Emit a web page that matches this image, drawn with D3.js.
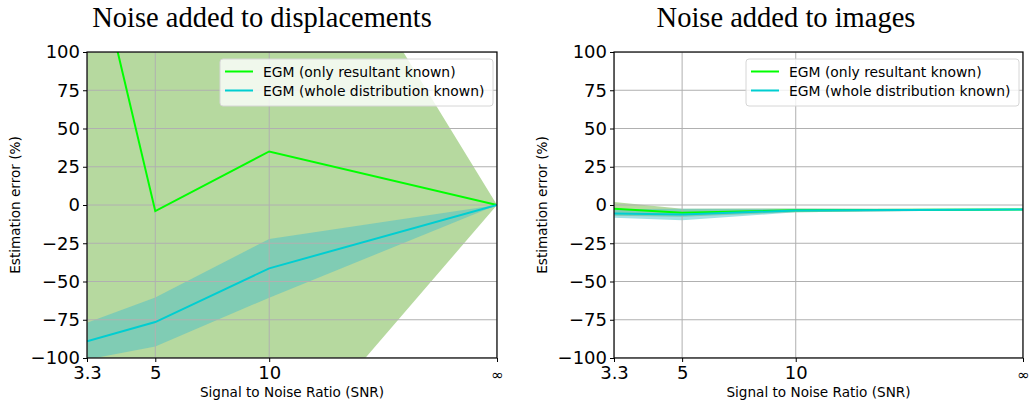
<!DOCTYPE html>
<html lang="en">
<head>
<meta charset="UTF-8">
<title>Estimation error vs SNR</title>
<script src="https://d3js.org/d3.v7.min.js"></script>
<style>
  body { margin: 0; background: #fff; }
  text { font-family: "DejaVu Sans", sans-serif; fill: #000; }
</style>
</head>
<body>
<svg id="chart" width="1031" height="406"></svg>
<script>
// SNR values, infinity is put at the right end of the log axis
const snrValues = [3.3, 5, 10, Infinity];
const snrLabels = ["3.3", "5", "10", "\u221E"];
const yTicks = [-100, -75, -50, -25, 0, 25, 50, 75, 100];
const seriesNames = ["EGM (only resultant known)", "EGM (whole distribution known)"];

// noise added to displacements
const dispResultantMean = [185, -4, 35, 0];
const dispResultantStd = [400, 300, 208, 0];
const dispWholeMean = [-89, -76.5, -41.4, 0];
const dispWholeStd = [12, 16, 19.2, 0];

// noise added to images
const imgResultantMean = [-2.5, -5, -3.5, -3];
const imgResultantStd = [4.5, 2.6, 1.2, 0.3];
const imgWholeMean = [-5.5, -6.2, -3.6, -3];
const imgWholeStd = [2.8, 3.8, 1.2, 0.3];

const INF_POS = 40; // where "infinity" sits on the log axis
const plotTop = 52, plotBottom = 358;

const panels = [
    { title: "Noise added to displacements", left: 87, right: 497, titleX: 262,
      resMean: dispResultantMean, resStd: dispResultantStd,
      wholeMean: dispWholeMean, wholeStd: dispWholeStd },
    { title: "Noise added to images", left: 614, right: 1023, titleX: 786,
      resMean: imgResultantMean, resStd: imgResultantStd,
      wholeMean: imgWholeMean, wholeStd: imgWholeStd }
];

const svg = d3.select("#chart");

panels.forEach(function(p, pi) {
    const x = d3.scaleLog().domain([3.3, INF_POS]).range([p.left, p.right]);
    const y = d3.scaleLinear().domain([-100, 100]).range([plotBottom, plotTop]);
    const xOf = v => x(isFinite(v) ? v : INF_POS);

    const g = svg.append("g");

    // clip to the axes box
    g.append("clipPath").attr("id", "clip" + pi)
        .append("rect")
        .attr("x", p.left).attr("y", plotTop)
        .attr("width", p.right - p.left).attr("height", plotBottom - plotTop);

    const plot = g.append("g").attr("clip-path", "url(#clip" + pi + ")");

    const makeRows = (mean, std) => snrValues.map((s, i) => ({ s: s, m: mean[i], d: std[i] }));
    const resRows = makeRows(p.resMean, p.resStd);
    const wholeRows = makeRows(p.wholeMean, p.wholeStd);

    const area = d3.area()
        .x(d => xOf(d.s))
        .y0(d => y(d.m - d.d))
        .y1(d => y(d.m + d.d));

    // bands
    plot.append("path").datum(resRows)
        .attr("d", area)
        .attr("fill", "#6db33f").attr("fill-opacity", 0.5);
    plot.append("path").datum(wholeRows)
        .attr("d", area)
        .attr("fill", "#4abfc9").attr("fill-opacity", 0.5);

    // grid
    plot.append("g").selectAll("line")
        .data(yTicks).enter().append("line")
        .attr("x1", p.left).attr("x2", p.right)
        .attr("y1", d => y(d)).attr("y2", d => y(d))
        .attr("stroke", "#b0b0b0").attr("stroke-width", 1);
    plot.append("g").selectAll("line")
        .data(snrValues).enter().append("line")
        .attr("x1", d => xOf(d)).attr("x2", d => xOf(d))
        .attr("y1", plotTop).attr("y2", plotBottom)
        .attr("stroke", "#b0b0b0").attr("stroke-width", 1);

    // mean lines
    const line = d3.line().x(d => xOf(d.s)).y(d => y(d.m));
    plot.append("path").datum(resRows)
        .attr("d", line).attr("fill", "none")
        .attr("stroke", "#00ff00").attr("stroke-width", 2);
    plot.append("path").datum(wholeRows)
        .attr("d", line).attr("fill", "none")
        .attr("stroke", "#00ced1").attr("stroke-width", 2);

    // frame
    g.append("rect")
        .attr("x", p.left).attr("y", plotTop)
        .attr("width", p.right - p.left).attr("height", plotBottom - plotTop)
        .attr("fill", "none").attr("stroke", "#000").attr("stroke-width", 1.2);

    // axes
    const yAxis = d3.axisLeft(y).tickValues(yTicks)
        .tickFormat(d => d < 0 ? "\u2212" + Math.abs(d) : d)
        .tickSize(4).tickPadding(3);
    const ya = g.append("g").attr("transform", "translate(" + p.left + ",0)").call(yAxis);

    const xAxis = d3.axisBottom(x).tickValues(snrValues.map(s => isFinite(s) ? s : INF_POS))
        .tickFormat((d, i) => snrLabels[i])
        .tickSize(4).tickPadding(4);
    const xa = g.append("g").attr("transform", "translate(0," + plotBottom + ")").call(xAxis);

    [ya, xa].forEach(a => {
        a.select(".domain").remove();
        a.selectAll(".tick line").attr("stroke", "#000").attr("stroke-width", 1);
        a.selectAll(".tick text").attr("font-family", "DejaVu Sans").attr("font-size", 18).attr("fill", "#000");
    });
    xa.selectAll(".tick text").filter((d, i) => i === 3).attr("font-size", 15).attr("dy", "0.9em");

    // axis labels
    g.append("text")
        .attr("x", (p.left + p.right) / 2).attr("y", 397)
        .attr("text-anchor", "middle").attr("font-size", 13.6)
        .text("Signal to Noise Ratio (SNR)");
    g.append("text")
        .attr("transform", "translate(" + (p.left - 67) + "," + ((plotTop + plotBottom) / 2) + ") rotate(-90)")
        .attr("text-anchor", "middle").attr("font-size", 13.6)
        .text("Estimation error (%)");

    // title
    g.append("text")
        .attr("x", p.titleX).attr("y", 27)
        .attr("text-anchor", "middle")
        .style("font-family", "'Liberation Serif', serif").attr("font-size", 28.5)
        .text(p.title);

    // legend
    const lg = g.append("g").attr("transform", "translate(" + (p.right - 277) + "," + 59 + ")");
    lg.append("rect")
        .attr("width", 273).attr("height", 47).attr("rx", 3)
        .attr("fill", "#fff").attr("fill-opacity", 0.8)
        .attr("stroke", "#d6d6d6").attr("stroke-width", 1);
    const legendColors = ["#00ff00", "#00ced1"];
    seriesNames.forEach(function(name, i) {
        const ly = 12.5 + i * 19;
        lg.append("line")
            .attr("x1", 5).attr("x2", 33).attr("y1", ly).attr("y2", ly)
            .attr("stroke", legendColors[i]).attr("stroke-width", 2);
        lg.append("text")
            .attr("x", 43).attr("y", ly + 5)
            .attr("font-size", 13.9)
            .text(name);
    });
});
</script>
</body>
</html>
